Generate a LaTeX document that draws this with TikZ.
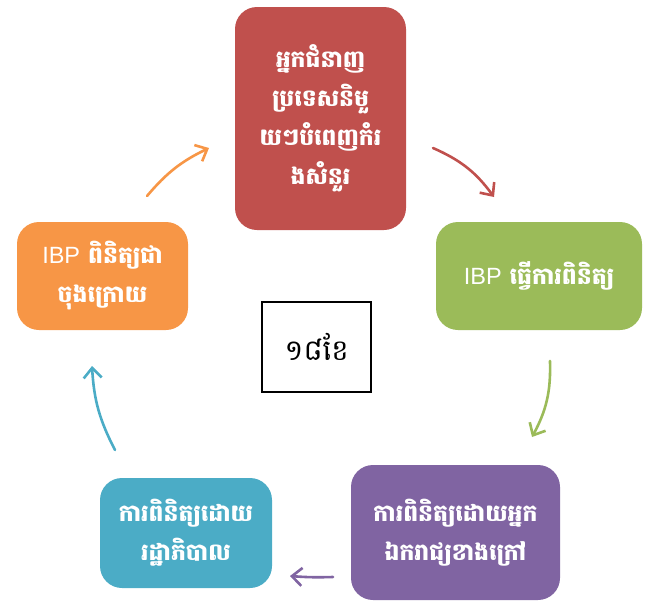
\documentclass[tikz,border=0pt]{standalone}
\usepackage{fontspec}
\setmainfont{Liberation Sans}
\newfontfamily\khmer[Script=Khmer]{Battambang}
\newfontfamily\latin{Liberation Sans}
\usetikzlibrary{arrows.meta}
\definecolor{boxred}{HTML}{C0504D}
\definecolor{boxgreen}{HTML}{9BBB59}
\definecolor{boxpurple}{HTML}{8064A2}
\definecolor{boxteal}{HTML}{4BACC6}
\definecolor{boxorange}{HTML}{F79646}
\tikzset{
  stage/.style={rectangle, rounded corners=22pt, text=white, align=center,
    inner sep=0pt, font=\fontsize{23.5}{39}\selectfont\khmer\bfseries},
  flow/.style={-{Straight Barb[length=10pt,width=18pt,line width=2.6pt]},
    line width=2.6pt, line cap=round},
}
\begin{document}
\begin{tikzpicture}[x=1pt, y=-1pt]
\useasboundingbox (0, 0) rectangle (649, 603);
\node at (320.5, 118.5) [stage, fill=boxred, minimum width=171pt, minimum height=223pt] (experts) {អ្នកជំនាញ\\ប្រទេសនិមួ\\យៗបំពេញកំរ\\ងសំនួរ};
\node at (539, 276) [stage, fill=boxgreen, minimum width=206pt, minimum height=108pt] (review) {{\latin\mdseries IBP} ធ្វើការពិនិត្យ};
\node at (455.5, 532.5) [stage, fill=boxpurple, minimum width=209pt, minimum height=135pt] (peer) {ការពិនិត្យដោយអ្នក\\ឯករាជ្យខាងក្រៅ};
\node at (186, 533) [stage, fill=boxteal, minimum width=172pt, minimum height=110pt] (govt) {ការពិនិត្យដោយ\\រដ្ឋាភិបាល};
\node at (102.5, 276) [stage, fill=boxorange, minimum width=171pt, minimum height=108pt] (final) {{\latin\mdseries IBP} ពិនិត្យជា\\ចុងក្រោយ};
\node at (316.5, 347) [draw, line width=1.4pt, minimum width=109pt, minimum height=90pt, font=\fontsize{29}{34}\selectfont\khmer] (months) {១៨ខែ};
\coordinate (r1) at (433, 148);
\coordinate (r2) at (494, 197);
\coordinate (g1) at (550, 361);
\coordinate (g2) at (532, 437);
\coordinate (p1) at (333, 577);
\coordinate (p2) at (290, 576);
\coordinate (t1) at (115, 450);
\coordinate (t2) at (92, 366);
\coordinate (o1) at (147, 196);
\coordinate (o2) at (209, 148);
\draw [flow, boxred] (r1) to [bend left=15] (r2);
\draw [flow, boxgreen] (g1) to [bend left=15] (g2);
\draw [flow, boxpurple] (p1) to [bend left=3] (p2);
\draw [flow, boxteal] (t1) to [bend left=12] (t2);
\draw [flow, boxorange] (o1) to [bend left=12] (o2);
\end{tikzpicture}
\end{document}
